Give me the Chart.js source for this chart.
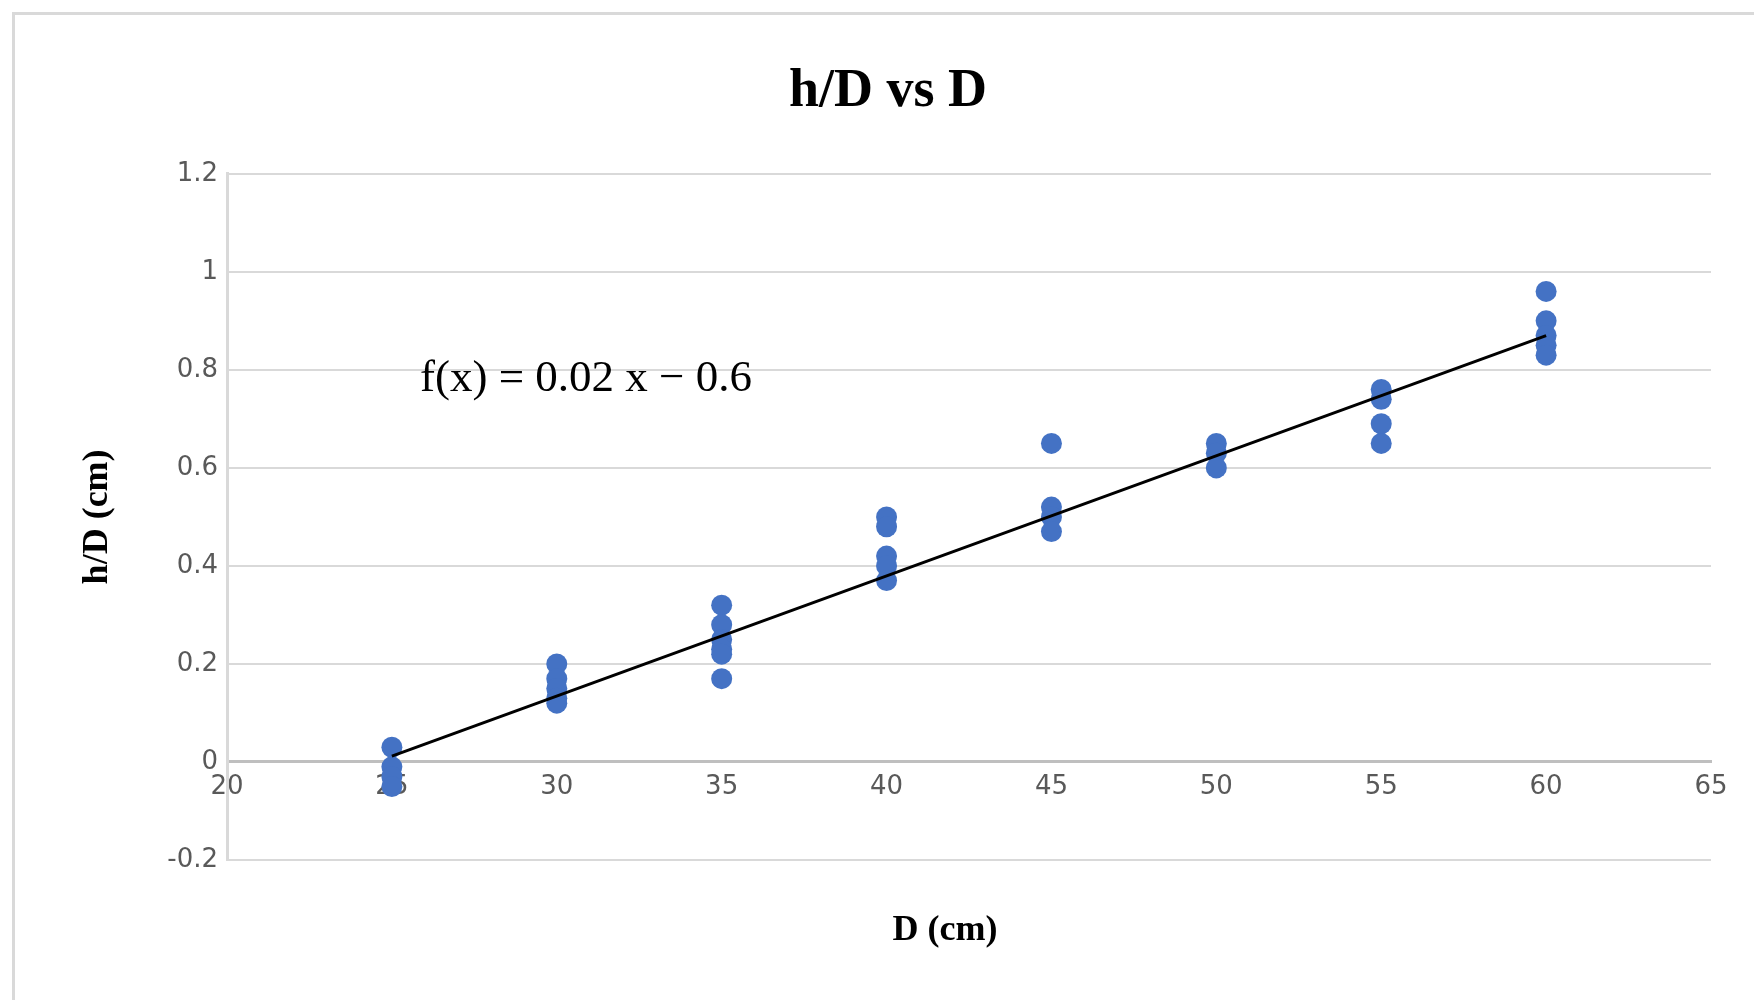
<!DOCTYPE html>
<html>
<head>
<meta charset="utf-8">
<title>h/D vs D</title>
<script src="https://cdn.jsdelivr.net/npm/chart.js@4.4.1/dist/chart.umd.min.js"></script>
<style>
  html, body { margin: 0; padding: 0; background: #fff; overflow: hidden; }
  #frame {
    position: absolute; left: 12px; top: 12px;
    width: 2000px; height: 2000px;
    border: 3px solid #d9d9d9;
  }
  #wrap { position: absolute; left: 0; top: 0; width: 1754px; height: 1000px; }
</style>
</head>
<body>
<div id="frame"></div>
<div id="wrap"><canvas id="hdChart"></canvas></div>
<script>
"use strict";

// Diameters (cm) and the h/D readings taken at each one
var diameters = [25, 30, 35, 40, 45, 50, 55, 60];
var hdRatios = [
  [0.03, -0.01, -0.03, -0.05],
  [0.2, 0.17, 0.15, 0.13, 0.12],
  [0.32, 0.28, 0.25, 0.23, 0.22, 0.17],
  [0.5, 0.48, 0.42, 0.4, 0.37],
  [0.65, 0.52, 0.5, 0.47],
  [0.65, 0.63, 0.6],
  [0.76, 0.74, 0.69, 0.65],
  [0.96, 0.9, 0.87, 0.85, 0.83],
];

// Trend line end points as drawn
var trendX = [25, 60];
var trendY = [0.012, 0.87];

var equationText = "f(x) = 0.02 x \u2212 0.6";
var xAxisTitle = "D (cm)";

var points = [];
diameters.forEach(function (d, i) {
  hdRatios[i].forEach(function (v) {
    points.push({ x: d, y: v });
  });
});

var trendPoints = trendX.map(function (x, i) {
  return { x: x, y: trendY[i] };
});

var GRID = "#d9d9d9";
var TICK_FONT = { family: "DejaVu Sans", size: 26 };
var SERIF = "'Liberation Serif', 'Times New Roman', serif";

// Equation of the trend line and the x axis title (sits off-centre in the original)
var extraText = {
  id: "extraText",
  afterDraw: function (chart) {
    var ctx = chart.ctx;
    ctx.save();
    ctx.fillStyle = "#000";
    ctx.font = "45px " + SERIF;
    ctx.textAlign = "left";
    ctx.textBaseline = "alphabetic";
    ctx.fillText(
      equationText,
      chart.scales.x.getPixelForValue(25.85),
      chart.scales.y.getPixelForValue(0.757)
    );
    ctx.font = "bold 36px " + SERIF;
    ctx.textAlign = "center";
    ctx.textBaseline = "middle";
    ctx.fillText(xAxisTitle, 945, 931);
    ctx.restore();
  },
};

new Chart(document.getElementById("hdChart"), {
  type: "scatter",
  data: {
    datasets: [
      {
        label: "h/D",
        data: points,
        backgroundColor: "#4472c4",
        borderWidth: 0,
        pointRadius: 10.5,
        pointHoverRadius: 10.5,
        order: 2,
      },
      {
        type: "line",
        label: "Trend",
        data: trendPoints,
        borderColor: "#000",
        borderWidth: 3,
        pointRadius: 0,
        fill: false,
        order: 1,
      },
    ],
  },
  options: {
    responsive: true,
    maintainAspectRatio: false,
    animation: false,
    layout: { padding: { left: 65, right: 43, top: 0, bottom: 140 } },
    plugins: {
      legend: { display: false },
      tooltip: { enabled: false },
      title: {
        display: true,
        text: "h/D vs D",
        color: "#000",
        font: { family: SERIF, size: 54, weight: "bold" },
        padding: { top: 60, bottom: 49 },
      },
    },
    scales: {
      x: {
        type: "linear",
        position: { y: 0 },
        min: 20,
        max: 65,
        ticks: { stepSize: 5, color: "#595959", font: TICK_FONT, padding: 10 },
        grid: { display: false, drawTicks: false },
        border: { display: true, color: "#bfbfbf", width: 3 },
      },
      y: {
        type: "linear",
        position: "left",
        min: -0.2,
        max: 1.2,
        afterFit: function (scale) {
          scale.width = 162;
        },
        ticks: {
          stepSize: 0.2,
          color: "#595959",
          font: TICK_FONT,
          padding: 9,
          callback: function (value) {
            return String(Math.round(value * 10) / 10);
          },
        },
        grid: {
          drawTicks: false,
          color: function (c) {
            return c.tick && Math.abs(c.tick.value) < 1e-9 ? "#bfbfbf" : GRID;
          },
          lineWidth: function (c) {
            return c.tick && Math.abs(c.tick.value) < 1e-9 ? 3 : 2;
          },
        },
        border: { display: true, color: GRID, width: 3 },
        title: {
          display: true,
          text: "h/D (cm)",
          color: "#000",
          font: { family: SERIF, size: 36, weight: "bold" },
          padding: { top: 11, bottom: 0 },
        },
      },
    },
  },
  plugins: [extraText],
});
</script>
</body>
</html>
